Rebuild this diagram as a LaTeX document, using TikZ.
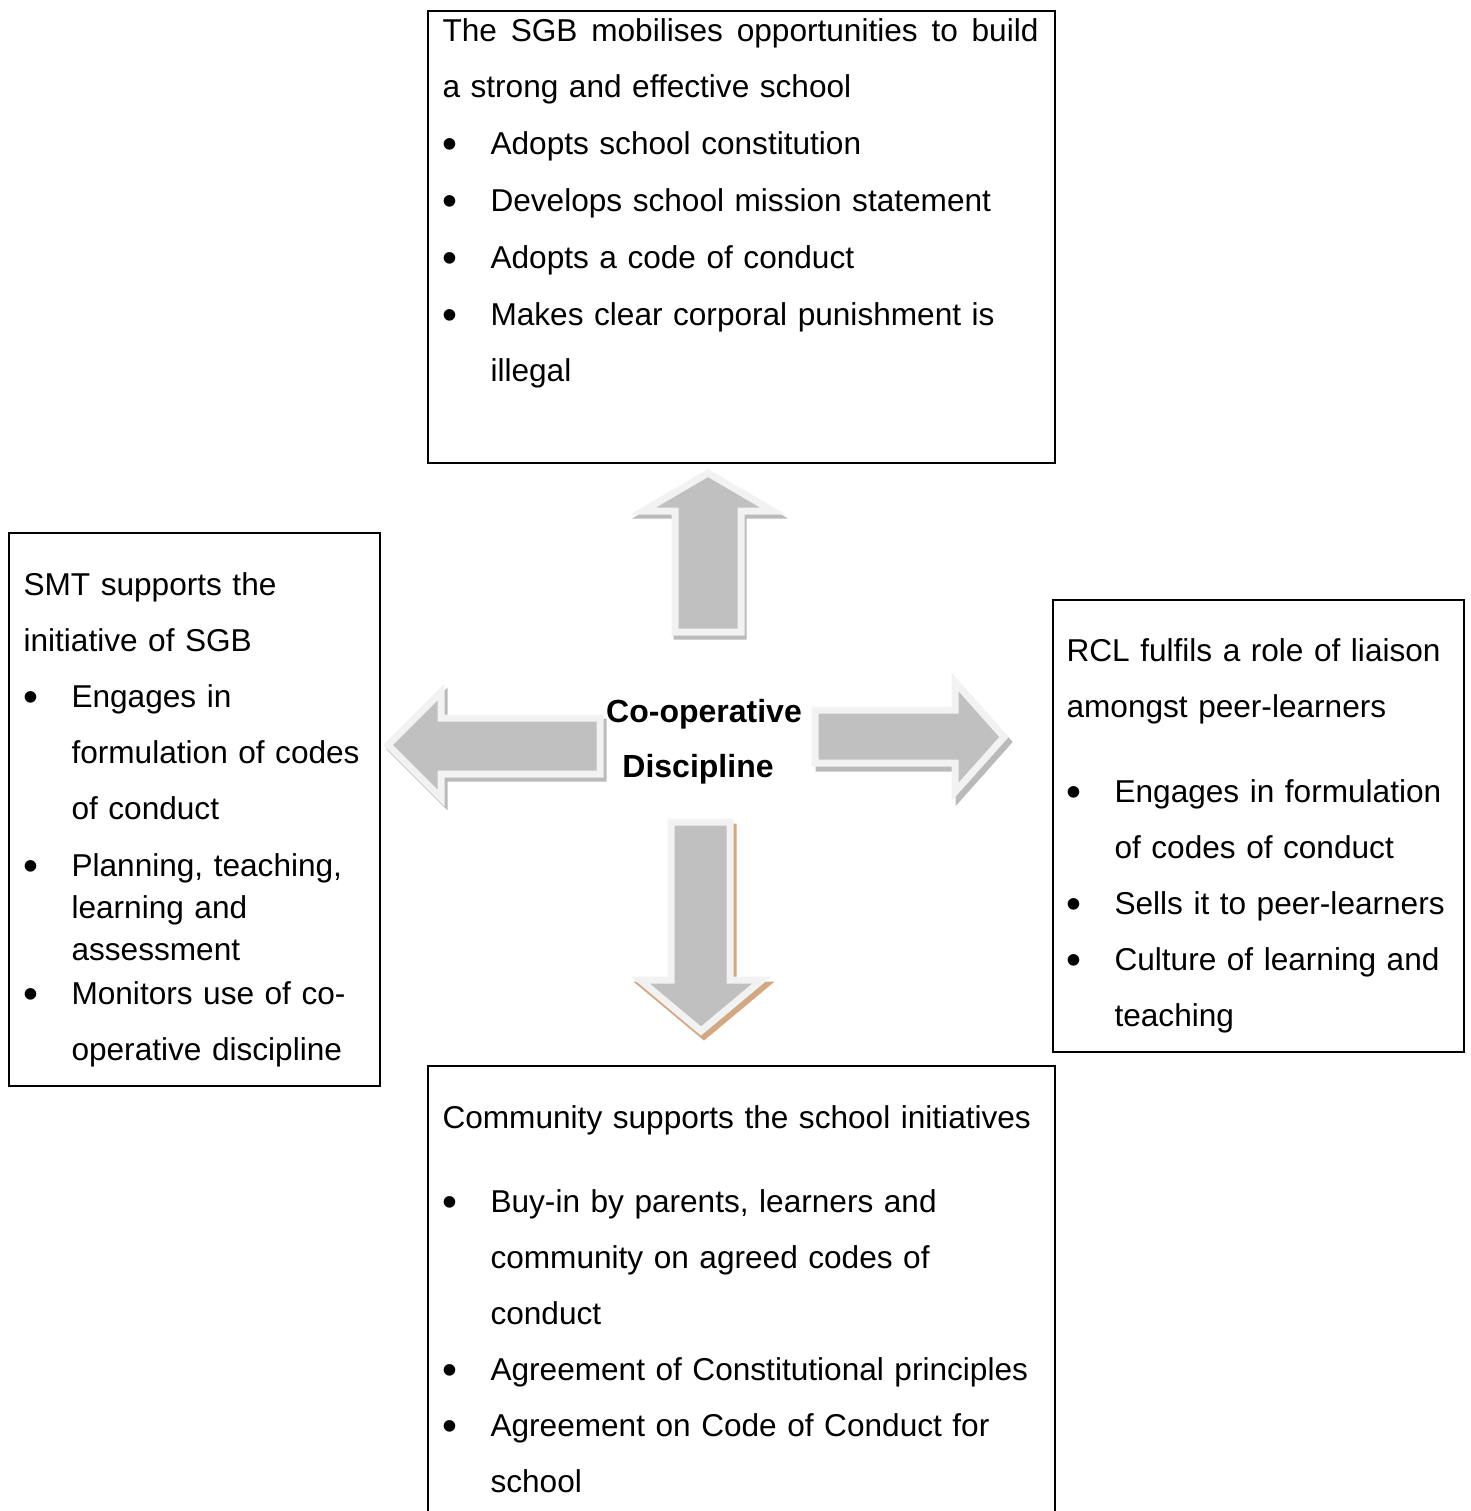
\documentclass[tikz,border=0pt]{standalone}
\usepackage{fontspec}
\setmainfont{Liberation Sans}
\definecolor{arrowgray}{RGB}{192,192,192}
\definecolor{arrowrim}{RGB}{242,242,242}
\definecolor{shadowgray}{RGB}{186,186,186}
\definecolor{shadowtan}{RGB}{210,168,130}
\newlength{\px}\setlength{\px}{0.375pt}
% bullet item with hanging indent
\newcommand{\bul}[1]{\hangindent=48\px\hangafter=1\noindent\makebox[48\px][l]{\raisebox{-4\px}{\scalebox{1.35}{\textbullet}}}#1\par}

\tikzset{
  box/.style={draw, line width=0.75pt, rectangle, anchor=north west, inner sep=0pt},
  boxtext/.style={anchor=base west, inner sep=0pt, font=\fontsize{11.85pt}{21pt}\selectfont},
  centretext/.style={anchor=base, inner sep=0pt, font=\fontsize{12pt}{21pt}\selectfont\bfseries},
  blockarrow/.style={fill=arrowgray, draw=arrowrim, line width=7\px, line join=miter},
  arrowshadow/.style={fill=#1, draw=#1, line width=7\px, line join=miter}
}

\begin{document}
\begin{tikzpicture}[x=0.375pt, y=-0.375pt]
    \useasboundingbox (0,0) rectangle (1471,1511);

    % the four boxes
    \node[box, minimum width=627\px, minimum height=452\px] (sgb) at (427,10) {};
    \node[box, minimum width=371\px, minimum height=553\px] (smt) at (8,532) {};
    \node[box, minimum width=411\px, minimum height=452\px] (rcl) at (1052,599) {};
    \node[box, minimum width=627\px, minimum height=470\px] (community) at (427,1065) {};

    % box texts
    \node[boxtext, text width=600\px] (sgbtext) at (442,41) {%
        \baselineskip=21.3pt
        \makebox[596\px][l]{The\hfill SGB\hfill mobilises\hfill opportunities\hfill to\hfill build}\newline
        a strong and effective school\par
        \bul{Adopts school constitution}
        \bul{Develops school mission statement}
        \bul{Adopts a code of conduct}
        \bul{Makes clear corporal punishment is\newline illegal}};

    \node[boxtext, text width=350\px] (smttext) at (23,595) {%
        SMT supports the\newline
        initiative of SGB\par
        \bul{Engages in\newline formulation of codes\newline of conduct}
        {\baselineskip=15.75pt \vspace{15\px}\bul{Planning, teaching,\newline learning and\newline assessment}}
        \vspace{-12\px}\bul{Monitors use of co-\newline operative discipline}};

    \node[boxtext, text width=390\px] (rcltext) at (1066,661) {%
        RCL fulfils a role of liaison\newline
        amongst peer-learners\par
        \vspace{29\px}
        \bul{Engages in formulation\newline of codes of conduct}
        \bul{Sells it to peer-learners}
        \bul{Culture of learning and\newline teaching}};

    \node[boxtext, text width=600\px] (communitytext) at (442,1128) {%
        Community supports the school initiatives\par
        \vspace{28\px}
        \bul{Buy-in by parents, learners and\newline community on agreed codes of\newline conduct}
        \bul{Agreement of Constitutional principles}
        \bul{Agreement on Code of Conduct for\newline school}};

    % centre
    \node[centretext] (coop) at (704,722) {Co-operative};
    \node[centretext] (disc) at (698,777) {Discipline};

    % block arrows: shadow first, then the arrow
    \draw[arrowshadow=shadowgray, shift={(2,4)}] (708,473) -- (773,511) -- (741,511) -- (741,632) -- (675,632) -- (675,511) -- (643,511) -- cycle;
    \draw[blockarrow] (708,473) -- (773,511) -- (741,511) -- (741,632) -- (675,632) -- (675,511) -- (643,511) -- cycle;

    \draw[arrowshadow=shadowgray, shift={(3,4)}] (388,745) -- (441,692) -- (441,718) -- (600,718) -- (600,774) -- (441,774) -- (441,798) -- cycle;
    \draw[blockarrow] (388,745) -- (441,692) -- (441,718) -- (600,718) -- (600,774) -- (441,774) -- (441,798) -- cycle;

    \draw[arrowshadow=shadowgray, shift={(4,5)}] (1004,737) -- (955,792) -- (955,763) -- (815,763) -- (815,710) -- (955,710) -- (955,682) -- cycle;
    \draw[blockarrow] (1004,737) -- (955,792) -- (955,763) -- (815,763) -- (815,710) -- (955,710) -- (955,682) -- cycle;

    \draw[arrowshadow=shadowtan, shift={(3,5)}] (701,1031) -- (640,980) -- (671,980) -- (671,822) -- (730,822) -- (730,980) -- (762,980) -- cycle;
    \draw[blockarrow] (701,1031) -- (640,980) -- (671,980) -- (671,822) -- (730,822) -- (730,980) -- (762,980) -- cycle;
\end{tikzpicture}
\end{document}
